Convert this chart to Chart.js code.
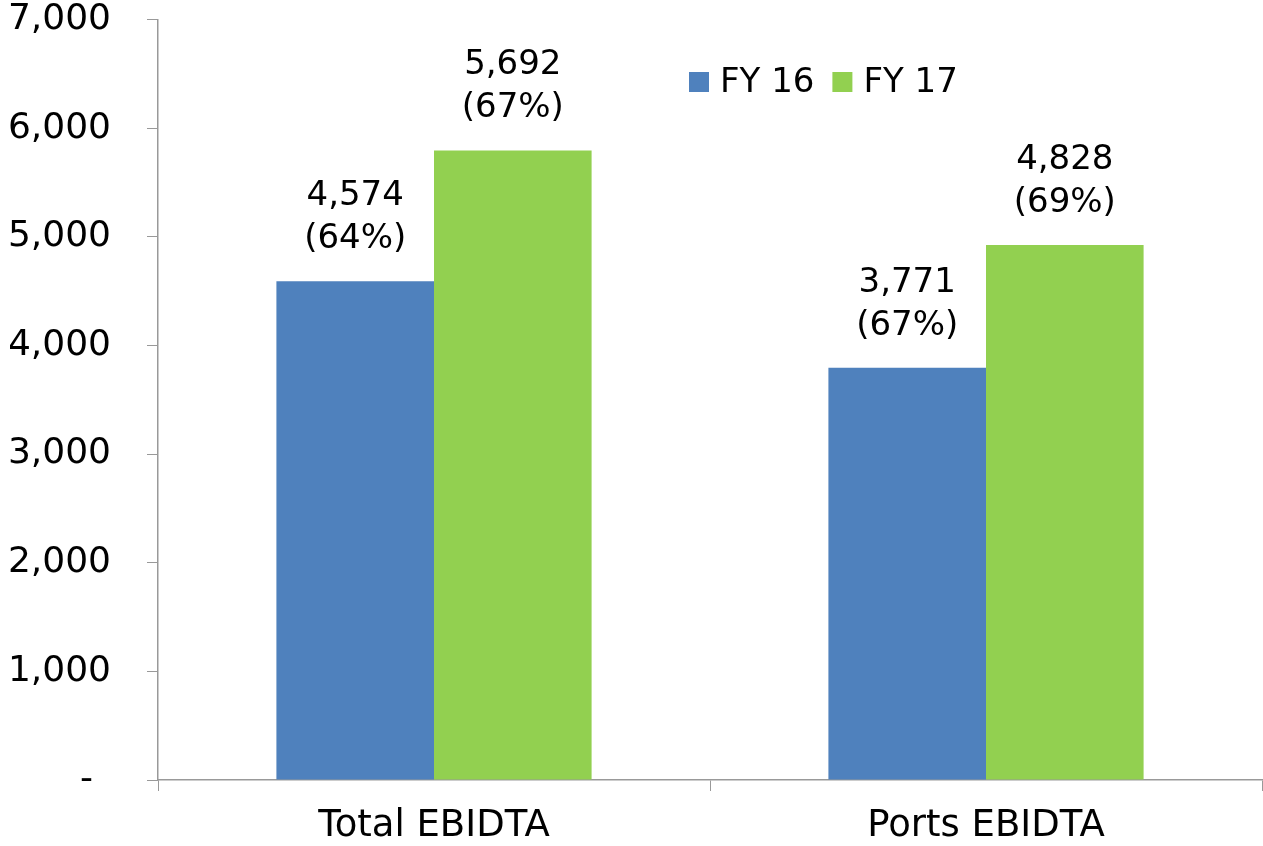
<!DOCTYPE html>
<html>
<head>
<meta charset="utf-8">
<title>EBIDTA</title>
<script src="https://cdn.jsdelivr.net/npm/chart.js@4"></script>
<style>
  html, body { margin: 0; padding: 0; background: #fff; }
  #wrap { width: 1263px; height: 846px; }
</style>
</head>
<body>
<div id="wrap"><canvas id="ebidta-chart"></canvas></div>
<script>
// Chart data
var categories = ["Total EBIDTA", "Ports EBIDTA"];
var seriesNames = ["FY 16", "FY 17"];
var fy16 = [4590, 3795];
var fy17 = [5795, 4925];
var fy16Labels = [["4,574", "(64%)"], ["3,771", "(67%)"]];
var fy17Labels = [["5,692", "(67%)"], ["4,828", "(69%)"]];
var colors = ["#4F81BD", "#92D050"];
var yTicks = [0, 1000, 2000, 3000, 4000, 5000, 6000, 7000];

var font = "DejaVu Sans";
var fontSize = 34;

// value labels above the bars
var barLabels = {
    id: "barLabels",
    afterDatasetsDraw: function (chart) {
        var ctx = chart.ctx;
        var all = [fy16Labels, fy17Labels];
        ctx.save();
        ctx.font = fontSize + "px '" + font + "'";
        ctx.fillStyle = "#000";
        ctx.textAlign = "center";
        ctx.textBaseline = "alphabetic";
        chart.data.datasets.forEach(function (ds, i) {
            chart.getDatasetMeta(i).data.forEach(function (bar, j) {
                var lines = all[i][j];
                ctx.fillText(lines[0], bar.x, bar.y - 33 - 43);
                ctx.fillText(lines[1], bar.x, bar.y - 33);
            });
        });
        ctx.restore();
    }
};

// legend drawn inside the plot, like the original
var innerLegend = {
    id: "innerLegend",
    afterDraw: function (chart) {
        var ctx = chart.ctx;
        var x = 689, y = 82;
        ctx.save();
        ctx.font = fontSize + "px '" + font + "'";
        ctx.textAlign = "left";
        ctx.textBaseline = "middle";
        chart.data.datasets.forEach(function (ds) {
            ctx.fillStyle = ds.backgroundColor;
            ctx.fillRect(x, y - 10, 20, 20);
            ctx.fillStyle = "#000";
            ctx.fillText(ds.label, x + 31, y + 1);
            x += 31 + ctx.measureText(ds.label).width + 18;
        });
        ctx.restore();
    }
};

var ctx = document.getElementById("ebidta-chart");

var chartData = {
    labels: categories,
    datasets: [
        { label: seriesNames[0], data: fy16, backgroundColor: colors[0] },
        { label: seriesNames[1], data: fy17, backgroundColor: colors[1] }
    ]
};

var chartOptions = {
    responsive: true,
    maintainAspectRatio: false,
    animation: false,
    layout: { padding: { top: 19.5, right: 1, left: 10, bottom: 0 } },
    datasets: {
        bar: { categoryPercentage: 0.571, barPercentage: 1.0 }
    },
    plugins: {
        legend: { display: false },
        tooltip: { enabled: false }
    },
    scales: {
        x: {
            afterFit: function (s) {
                s.height = 66;
                s.paddingLeft = 0;
                s.paddingRight = 0;
            },
            grid: { drawOnChartArea: false, drawTicks: true, tickLength: 11, color: "#999", offset: true },
            border: { color: "#999", width: 1.5 },
            ticks: { color: "#000", padding: 13, font: { family: font, size: 37 } }
        },
        y: {
            min: 0,
            max: 7000,
            afterBuildTicks: function (axis) {
                axis.ticks = yTicks.map(function (v) { return { value: v }; });
            },
            afterFit: function (s) {
                s.width = 148;
                s.paddingTop = 0;
                s.paddingBottom = 0;
            },
            grid: { drawOnChartArea: false, drawTicks: true, tickLength: 11, color: "#999" },
            border: { color: "#999", width: 1.5 },
            ticks: {
                color: "#000",
                padding: 36,
                font: { family: font, size: 36 },
                callback: function (v) {
                    return v === 0 ? "-\u2002" : v.toLocaleString("en-US");
                }
            }
        }
    }
};

var config = {
    type: "bar",
    data: chartData,
    options: chartOptions,
    plugins: [barLabels, innerLegend]
};

var ebidtaChart = new Chart(ctx, config);
</script>
</body>
</html>
